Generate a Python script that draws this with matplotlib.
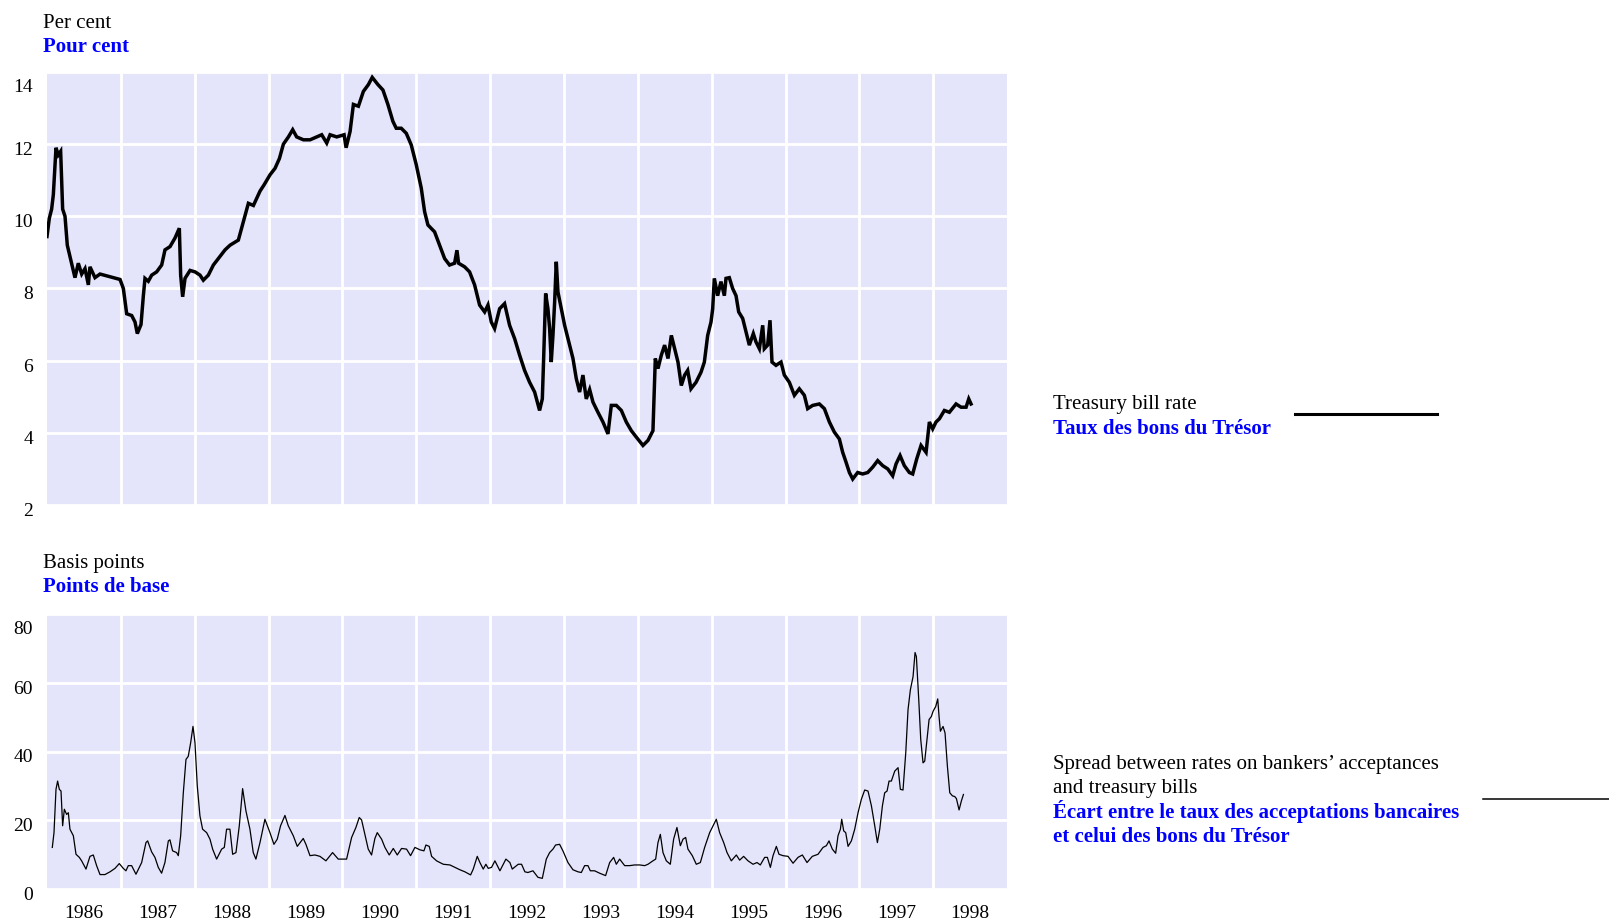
import numpy as np
import matplotlib
matplotlib.use("Agg")
import matplotlib.pyplot as plt
from matplotlib.lines import Line2D
from matplotlib.ticker import FixedLocator, NullFormatter, FixedFormatter
from matplotlib.transforms import ScaledTranslation

plt.rcParams['font.family'] = ['Liberation Serif', 'DejaVu Serif']

# treasury bill rate, per cent (decimal years)
tb_year = [
    1986.000, 1986.032, 1986.063, 1986.086, 1986.122, 1986.153, 1986.185, 1986.212, 1986.244, 1986.275,
    1986.321, 1986.379, 1986.424, 1986.470, 1986.515, 1986.560, 1986.582, 1986.650, 1986.718, 1986.808,
    1986.898, 1986.989, 1987.034, 1987.079, 1987.147, 1987.192, 1987.223, 1987.273, 1987.305, 1987.327,
    1987.372, 1987.418, 1987.485, 1987.553, 1987.598, 1987.666, 1987.734, 1987.792, 1987.810, 1987.837,
    1987.869, 1987.937, 1988.005, 1988.072, 1988.117, 1988.185, 1988.253, 1988.321, 1988.411, 1988.479,
    1988.591, 1988.659, 1988.727, 1988.795, 1988.885, 1988.939, 1989.020, 1989.088, 1989.147, 1989.201,
    1989.269, 1989.327, 1989.381, 1989.472, 1989.562, 1989.652, 1989.720, 1989.788, 1989.833, 1989.923,
    1990.023, 1990.050, 1990.104, 1990.149, 1990.217, 1990.284, 1990.352, 1990.404, 1990.481, 1990.549,
    1990.616, 1990.684, 1990.729, 1990.797, 1990.865, 1990.932, 1991.000, 1991.068, 1991.113, 1991.158,
    1991.248, 1991.316, 1991.384, 1991.451, 1991.519, 1991.551, 1991.573, 1991.655, 1991.722, 1991.790,
    1991.858, 1991.926, 1991.971, 1992.016, 1992.061, 1992.129, 1992.196, 1992.264, 1992.332, 1992.400,
    1992.467, 1992.535, 1992.603, 1992.670, 1992.707, 1992.725, 1992.752, 1992.783, 1992.806, 1992.828,
    1992.851, 1992.874, 1992.896, 1992.919, 1992.964, 1993.009, 1993.054, 1993.122, 1993.167, 1993.212,
    1993.257, 1993.302, 1993.348, 1993.393, 1993.460, 1993.528, 1993.596, 1993.641, 1993.709, 1993.777,
    1993.844, 1993.912, 1993.980, 1994.070, 1994.138, 1994.205, 1994.237, 1994.273, 1994.318, 1994.363,
    1994.409, 1994.454, 1994.499, 1994.544, 1994.589, 1994.634, 1994.675, 1994.720, 1994.788, 1994.856,
    1994.901, 1994.946, 1994.991, 1995.014, 1995.036, 1995.081, 1995.126, 1995.172, 1995.194, 1995.239,
    1995.284, 1995.330, 1995.366, 1995.420, 1995.465, 1995.510, 1995.564, 1995.600, 1995.646, 1995.691,
    1995.713, 1995.758, 1995.790, 1995.817, 1995.871, 1995.939, 1995.984, 1996.052, 1996.120, 1996.187,
    1996.255, 1996.300, 1996.368, 1996.458, 1996.526, 1996.594, 1996.661, 1996.729, 1996.774, 1996.819,
    1996.865, 1996.910, 1996.977, 1997.045, 1997.113, 1997.181, 1997.248, 1997.316, 1997.384, 1997.451,
    1997.497, 1997.551, 1997.609, 1997.677, 1997.722, 1997.777, 1997.835, 1997.903, 1997.948, 1997.993,
    1998.038, 1998.084, 1998.151, 1998.219, 1998.309, 1998.377, 1998.445, 1998.481, 1998.512,
]
tb_rate = [
    9.44, 9.95, 10.2, 10.6, 11.9, 11.7, 11.8, 10.2, 10.0, 9.2,
    8.8, 8.3, 8.7, 8.4, 8.55, 8.1, 8.6, 8.3, 8.4, 8.35,
    8.3, 8.25, 8.0, 7.3, 7.25, 7.07, 6.75, 7.0, 7.8, 8.28,
    8.2, 8.37, 8.46, 8.65, 9.07, 9.16, 9.4, 9.67, 8.37, 7.77,
    8.28, 8.5, 8.46, 8.37, 8.23, 8.37, 8.65, 8.83, 9.07, 9.2,
    9.34, 9.85, 10.36, 10.3, 10.7, 10.87, 11.15, 11.33, 11.6, 12.0,
    12.2, 12.4, 12.2, 12.12, 12.12, 12.2, 12.26, 12.03, 12.26, 12.2,
    12.26, 11.9, 12.35, 13.1, 13.05, 13.46, 13.65, 13.85, 13.65, 13.5,
    13.1, 12.63, 12.44, 12.44, 12.3, 11.98, 11.43, 10.78, 10.13, 9.76,
    9.57, 9.2, 8.83, 8.65, 8.7, 9.06, 8.7, 8.6, 8.46, 8.1,
    7.54, 7.35, 7.54, 7.07, 6.89, 7.44, 7.58, 6.98, 6.61, 6.15,
    5.73, 5.4, 5.13, 4.62, 4.94, 6.06, 7.86, 7.44, 6.89, 5.96,
    6.7, 7.63, 8.74, 7.9, 7.44, 6.98, 6.61, 6.06, 5.5, 5.13,
    5.6, 4.94, 5.2, 4.85, 4.57, 4.3, 3.97, 4.76, 4.76, 4.62,
    4.3, 4.06, 3.88, 3.65, 3.79, 4.06, 6.06, 5.78, 6.15, 6.43,
    6.06, 6.7, 6.33, 5.96, 5.31, 5.6, 5.73, 5.22, 5.4, 5.68,
    5.96, 6.7, 7.07, 7.44, 8.28, 7.8, 8.19, 7.8, 8.28, 8.3,
    8.0, 7.8, 7.35, 7.17, 6.8, 6.43, 6.75, 6.52, 6.33, 6.98,
    6.33, 6.43, 7.12, 5.96, 5.87, 5.96, 5.6, 5.4, 5.04, 5.22,
    5.04, 4.67, 4.76, 4.8, 4.67, 4.3, 4.02, 3.83, 3.46, 3.19,
    2.9, 2.72, 2.9, 2.86, 2.9, 3.05, 3.23, 3.09, 3.0, 2.81,
    3.14, 3.37, 3.09, 2.9, 2.86, 3.28, 3.65, 3.46, 4.3, 4.11,
    4.3, 4.39, 4.62, 4.57, 4.8, 4.71, 4.71, 4.94, 4.8,
]

# spread bankers' acceptances - treasury bills, basis points
sp_year = [
    1986.072, 1986.095, 1986.122, 1986.144, 1986.167, 1986.190, 1986.212, 1986.235, 1986.266, 1986.289,
    1986.311, 1986.357, 1986.393, 1986.438, 1986.469, 1986.528, 1986.582, 1986.627, 1986.672, 1986.718,
    1986.785, 1986.853, 1986.921, 1986.979, 1987.033, 1987.069, 1987.101, 1987.146, 1987.205, 1987.282,
    1987.340, 1987.363, 1987.417, 1987.462, 1987.507, 1987.552, 1987.597, 1987.643, 1987.665, 1987.701,
    1987.755, 1987.778, 1987.810, 1987.846, 1987.882, 1987.913, 1987.945, 1987.977, 1988.004, 1988.035,
    1988.071, 1988.107, 1988.162, 1988.207, 1988.243, 1988.297, 1988.365, 1988.401, 1988.432, 1988.477,
    1988.514, 1988.559, 1988.604, 1988.649, 1988.694, 1988.748, 1988.793, 1988.829, 1988.884, 1988.951,
    1989.019, 1989.073, 1989.118, 1989.163, 1989.222, 1989.267, 1989.335, 1989.389, 1989.470, 1989.506,
    1989.561, 1989.628, 1989.696, 1989.777, 1989.867, 1989.944, 1990.057, 1990.125, 1990.183, 1990.228,
    1990.260, 1990.305, 1990.350, 1990.395, 1990.440, 1990.472, 1990.531, 1990.576, 1990.634, 1990.689,
    1990.743, 1990.801, 1990.869, 1990.923, 1990.982, 1991.050, 1991.104, 1991.131, 1991.176, 1991.208,
    1991.275, 1991.366, 1991.456, 1991.523, 1991.591, 1991.659, 1991.736, 1991.772, 1991.826, 1991.862,
    1991.907, 1991.943, 1991.975, 1992.020, 1992.065, 1992.133, 1992.214, 1992.268, 1992.300, 1992.381,
    1992.426, 1992.471, 1992.512, 1992.580, 1992.648, 1992.707, 1992.761, 1992.806, 1992.851, 1992.887,
    1992.941, 1992.986, 1993.054, 1993.122, 1993.190, 1993.235, 1993.280, 1993.325, 1993.357, 1993.415,
    1993.483, 1993.564, 1993.619, 1993.673, 1993.709, 1993.754, 1993.822, 1993.889, 1993.957, 1994.025,
    1994.093, 1994.138, 1994.205, 1994.242, 1994.273, 1994.305, 1994.341, 1994.386, 1994.440, 1994.485,
    1994.530, 1994.576, 1994.612, 1994.648, 1994.679, 1994.738, 1994.792, 1994.847, 1994.905, 1994.973,
    1995.063, 1995.108, 1995.163, 1995.208, 1995.266, 1995.334, 1995.379, 1995.433, 1995.492, 1995.560,
    1995.614, 1995.659, 1995.718, 1995.754, 1995.795, 1995.831, 1995.876, 1995.912, 1995.966, 1996.034,
    1996.102, 1996.169, 1996.228, 1996.291, 1996.363, 1996.440, 1996.508, 1996.553, 1996.589, 1996.634,
    1996.679, 1996.711, 1996.743, 1996.761, 1996.788, 1996.815, 1996.847, 1996.892, 1996.937, 1996.982,
    1997.027, 1997.072, 1997.117, 1997.163, 1997.208, 1997.244, 1997.276, 1997.312, 1997.343, 1997.375,
    1997.402, 1997.433, 1997.479, 1997.524, 1997.555, 1997.591, 1997.628, 1997.659, 1997.691, 1997.727,
    1997.754, 1997.772, 1997.804, 1997.831, 1997.862, 1997.885, 1997.916, 1997.944, 1997.975, 1997.998,
    1998.034, 1998.061, 1998.079, 1998.097, 1998.133, 1998.160, 1998.192, 1998.224, 1998.260, 1998.291,
    1998.314, 1998.350, 1998.381, 1998.409,
]
sp_bp = [
    12.1, 16.4, 29.0, 31.4, 29.0, 28.5, 18.4, 23.2, 21.7, 22.2,
    17.4, 15.5, 10.1, 9.2, 8.2, 5.8, 9.5, 9.9, 6.8, 4.2,
    4.2, 5.0, 6.0, 7.4, 6.0, 5.3, 6.8, 6.8, 4.3, 7.7,
    13.5, 14.0, 10.8, 9.2, 6.3, 4.6, 7.7, 14.0, 14.3, 11.1,
    10.6, 9.7, 15.5, 28.0, 37.7, 38.6, 42.5, 47.3, 42.5, 30.0,
    21.3, 17.4, 16.4, 14.5, 11.6, 8.7, 11.6, 12.1, 17.4, 17.4,
    10.1, 10.6, 18.4, 29.2, 22.7, 17.4, 10.6, 8.7, 13.5, 20.3,
    16.4, 13.0, 14.5, 18.4, 21.4, 18.4, 15.5, 12.4, 14.7, 13.0,
    9.7, 9.9, 9.5, 8.2, 10.6, 8.7, 8.7, 15.0, 17.9, 20.8,
    20.1, 15.9, 11.6, 9.9, 14.7, 16.4, 14.5, 12.1, 9.9, 11.8,
    9.9, 11.8, 11.6, 9.7, 12.1, 11.4, 11.1, 12.8, 12.4, 9.5,
    8.2, 7.2, 7.0, 6.3, 5.6, 5.0, 4.1, 5.8, 9.5, 7.7,
    5.8, 7.2, 6.0, 6.3, 8.2, 5.3, 8.7, 7.7, 5.8, 7.2,
    7.2, 5.0, 4.8, 5.3, 3.4, 3.1, 8.7, 10.6, 11.6, 12.8,
    13.0, 11.1, 7.7, 5.6, 5.0, 4.8, 6.8, 6.8, 5.3, 5.3,
    4.6, 3.9, 7.7, 9.2, 7.2, 8.7, 6.8, 6.8, 7.0, 7.0,
    6.8, 7.2, 8.2, 8.7, 13.5, 15.9, 10.6, 8.2, 7.2, 14.5,
    17.9, 12.6, 14.5, 15.0, 11.6, 9.7, 7.2, 7.7, 12.1, 16.4,
    20.3, 16.4, 13.5, 10.6, 8.2, 9.9, 8.4, 9.5, 8.2, 7.2,
    7.7, 7.0, 9.2, 9.2, 6.3, 9.7, 12.4, 10.1, 9.7, 9.5,
    7.5, 9.2, 9.9, 7.7, 9.5, 10.1, 12.1, 12.6, 14.0, 11.6,
    10.4, 15.5, 17.4, 20.3, 16.9, 16.4, 12.4, 14.0, 17.4, 22.2,
    26.1, 28.8, 28.5, 24.2, 18.4, 13.5, 17.4, 24.2, 28.0, 28.5,
    31.4, 31.4, 34.3, 35.3, 29.0, 28.8, 39.6, 52.2, 58.0, 61.8,
    68.8, 67.6, 55.1, 43.5, 36.7, 37.2, 43.5, 49.3, 50.2, 51.7,
    53.1, 55.3, 50.2, 45.9, 47.3, 45.4, 35.7, 28.0, 27.1, 26.9,
    26.3, 23.0, 25.6, 27.5,
]

years = list(range(1986, 1999))
year_labels = [str(y) for y in years]

BG = '#E4E4FA'
BLUE = '#0000FF'


def style_axis(ax, yticks):
    ax.set_facecolor(BG)
    for s in ax.spines.values():
        s.set_visible(False)
    ax.set_xlim(1986, 1999)
    ax.xaxis.set_major_locator(FixedLocator(years[1:]))
    ax.xaxis.set_major_formatter(NullFormatter())
    ax.set_yticks(yticks)
    ax.set_ylim(yticks[0], yticks[-1])
    ax.grid(True, which='major', color='white', linewidth=2.0)
    ax.set_axisbelow(True)
    ax.tick_params(which='both', length=0, labelsize=14, pad=10)
    # labels sit a little below their grid lines, the top one further down
    labels = ax.get_yticklabels()
    for i, lab in enumerate(labels):
        dy = -9 if i == len(labels) - 1 else -2.5
        lab.set_transform(lab.get_transform() + ScaledTranslation(0, dy / 72, fig.dpi_scale_trans))


fig = plt.figure(figsize=(16.09, 9.2), dpi=100)

ax1 = fig.add_axes([0.0292, 0.45, 0.5967, 0.4707])
style_axis(ax1, [2, 4, 6, 8, 10, 12, 14])
ax1.plot(tb_year, tb_rate, color='black', linewidth=2.5, solid_joinstyle='miter')

ax2 = fig.add_axes([0.0292, 0.0326, 0.5967, 0.2989])
style_axis(ax2, [0, 20, 40, 60, 80])
ax2.plot(sp_year, sp_bp, color='black', linewidth=0.9)
ax2.xaxis.set_minor_locator(FixedLocator([y + 0.5 for y in years]))
ax2.xaxis.set_minor_formatter(FixedFormatter(year_labels))
ax2.tick_params(axis='x', which='minor', pad=11)

# unit labels
fig.text(0.0267, 0.975, 'Per cent', fontsize=15, va='center')
fig.text(0.0267, 0.949, 'Pour cent', fontsize=15, va='center', color=BLUE, fontweight='bold')
fig.text(0.0267, 0.388, 'Basis points', fontsize=15, va='center')
fig.text(0.0267, 0.362, 'Points de base', fontsize=15, va='center', color=BLUE, fontweight='bold')

# legend entries
fig.text(0.6545, 0.560, 'Treasury bill rate', fontsize=15, va='center')
fig.text(0.6545, 0.534, 'Taux des bons du Trésor', fontsize=15, va='center',
         color=BLUE, fontweight='bold')
fig.add_artist(Line2D([0.805, 0.893], [0.549, 0.549], transform=fig.transFigure,
                      color='black', linewidth=2.2))

fig.text(0.6545, 0.169, 'Spread between rates on bankers\u2019 acceptances', fontsize=15, va='center')
fig.text(0.6545, 0.143, 'and treasury bills', fontsize=15, va='center')
fig.text(0.6545, 0.118, '\u00c9cart entre le taux des acceptations bancaires', fontsize=15,
         va='center', color=BLUE, fontweight='bold')
fig.text(0.6545, 0.0905, 'et celui des bons du Trésor', fontsize=15, va='center',
         color=BLUE, fontweight='bold')
fig.add_artist(Line2D([0.9217, 1.0], [0.1305, 0.1305], transform=fig.transFigure,
                      color='black', linewidth=1.1))

fig.savefig('out.png', dpi=100)
